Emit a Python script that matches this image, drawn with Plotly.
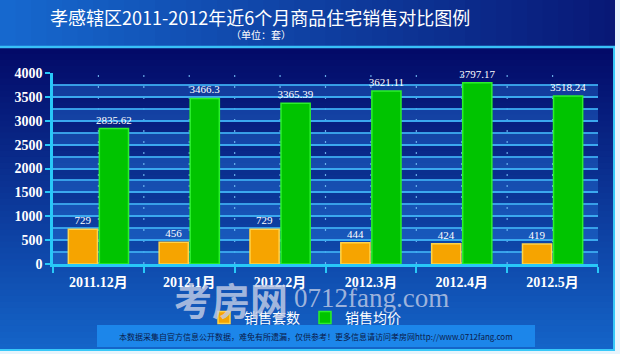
import plotly.graph_objects as go

categories = ["2011.12月", "2012.1月", "2012.2月", "2012.3月", "2012.4月", "2012.5月"]
sales_count = [729, 456, 729, 444, 424, 419]
avg_price = [2835.62, 3466.3, 3365.39, 3621.11, 3797.17, 3518.24]
y_ticks = [0, 500, 1000, 1500, 2000, 2500, 3000, 3500, 4000]

W, H = 620, 354
PL, PR, PT, PB = 53, 598, 73, 264


def fx(px):
    return (px - PL) / (PR - PL)


def fy(py):
    return (PB - py) / (PB - PT)


def mix(c1, c2, t):
    return "rgb(%d,%d,%d)" % tuple(round(a + (b - a) * t) for a, b in zip(c1, c2))


shapes = []
# title band: horizontal gradient
n = 40
for i in range(n):
    x0 = W * i / n
    x1 = W * (i + 1) / n + 1
    shapes.append(dict(type="rect", xref="paper", yref="paper", x0=fx(x0), x1=fx(x1),
                       y0=fy(0), y1=fy(46), line_width=0, layer="below",
                       fillcolor=mix((22, 104, 206), (8, 24, 118), i / (n - 1))))
# main panel vertical gradient
n = 50
for i in range(n):
    y0 = 48 + (350 - 48) * i / n
    y1 = 48 + (350 - 48) * (i + 1) / n + 1
    shapes.append(dict(type="rect", xref="paper", yref="paper", x0=fx(0), x1=fx(614),
                       y0=fy(y1), y1=fy(y0), line_width=0, layer="below",
                       fillcolor=mix((3, 10, 104), (20, 100, 200), i / (n - 1))))
# borders
shapes.append(dict(type="line", xref="paper", yref="paper", x0=fx(0), x1=fx(616),
                   y0=fy(47), y1=fy(47), line=dict(color="#38c0f8", width=2.5), layer="below"))
shapes.append(dict(type="rect", xref="paper", yref="paper", x0=fx(615), x1=fx(621),
                   y0=fy(-1), y1=fy(355), line_width=0, fillcolor="#e8f4fc", layer="below"))
shapes.append(dict(type="line", xref="paper", yref="paper", x0=fx(614), x1=fx(614),
                   y0=fy(47), y1=fy(351), line=dict(color="#38c8f8", width=2), layer="below"))
shapes.append(dict(type="rect", xref="paper", yref="paper", x0=fx(0), x1=fx(621),
                   y0=fy(355), y1=fy(351), line_width=0, fillcolor="#e8f4fc", layer="below"))
shapes.append(dict(type="line", xref="paper", yref="paper", x0=fx(0), x1=fx(615),
                   y0=fy(350), y1=fy(350), line=dict(color="#38c8f8", width=2), layer="below"))
# plot-area stripes
for k in range(0, 4000, 500):
    shapes.append(dict(type="rect", xref="paper", yref="y", x0=0, x1=1, y0=k, y1=k + 250,
                       line_width=0, fillcolor="rgba(40,120,220,0.4)", layer="below"))
# vertical dotted lines
for k in range(1, 12):
    xv = -0.5 + 0.5 * k
    shapes.append(dict(type="line", xref="x", yref="y", x0=xv, x1=xv, y0=0, y1=4000,
                       line=dict(color="rgba(120,195,250,0.85)", width=1.2, dash="2px,9px"),
                       layer="below"))
# footer box
shapes.append(dict(type="rect", xref="paper", yref="paper", x0=fx(97), x1=fx(535),
                   y0=fy(347), y1=fy(325), line_width=0, fillcolor="#1c86ea", layer="below"))

fig = go.Figure()
fig.add_bar(x=categories, y=sales_count, name="销售套数",
            marker=dict(color="#f6a400", line=dict(color="#ffd448", width=1.5)),
            text=[str(v) for v in sales_count], textposition="outside", constraintext="none",
            textfont=dict(color="white", size=11, family="Liberation Serif"))
fig.add_bar(x=categories, y=avg_price, name="销售均价",
            marker=dict(color="#00c400", line=dict(color="#2cf02c", width=1.5)),
            text=[("%g" % v) for v in avg_price], textposition="outside", constraintext="none",
            textfont=dict(color="white", size=11, family="Liberation Serif"))

annotations = [
    dict(text="孝感辖区2011-2012年近6个月商品住宅销售对比图例", xref="paper", yref="paper",
         x=fx(260), y=fy(17), xanchor="center", yanchor="middle", showarrow=False,
         font=dict(size=18, color="white", family="Noto Sans CJK SC")),
    dict(text="（单位：套）", xref="paper", yref="paper",
         x=fx(261), y=fy(35), xanchor="center", yanchor="middle", showarrow=False,
         font=dict(size=10, color="white", family="Noto Sans CJK SC")),
    dict(text="<b>考房网</b>", xref="paper", yref="paper",
         x=fx(231), y=fy(298), xanchor="center", yanchor="middle", showarrow=False,
         font=dict(size=38, color="rgba(195,205,230,0.82)", family="Noto Sans CJK SC")),
    dict(text="0712fang.com", xref="paper", yref="paper",
         x=fx(292), y=fy(298), xanchor="left", yanchor="middle", showarrow=False,
         font=dict(size=27, color="rgba(195,205,230,0.8)", family="Liberation Serif")),
    dict(text="本数据采集自官方信息公开数据，难免有所遗漏，仅供参考！更多信息请访问孝房网http://www.0712fang.com",
         xref="paper", yref="paper", x=fx(316), y=fy(336), xanchor="center", yanchor="middle",
         showarrow=False, font=dict(size=8, color="#0a1a4a", family="Noto Sans CJK SC")),
]

fig.update_layout(
    width=W, height=H,
    margin=dict(l=PL, r=W - PR, t=PT, b=H - PB, pad=0),
    paper_bgcolor="#0a2a90", plot_bgcolor="rgba(0,0,0,0)",
    barmode="group", bargap=0.317, bargroupgap=0.06,
    shapes=shapes, annotations=annotations,
    showlegend=True,
    legend=dict(orientation="h", x=fx(305), y=fy(318), xanchor="center", yanchor="middle",
                font=dict(size=14, color="white", family="Noto Sans CJK SC"),
                bgcolor="rgba(0,0,0,0)", itemwidth=30),
    xaxis=dict(type="category", tickson="boundaries", ticks="outside", ticklen=6,
               tickwidth=2, tickcolor="#28c8f8", showline=True, linecolor="#28c8f8",
               linewidth=2.5, showgrid=False, range=[-0.5, 5.5], ticklabelstandoff=3,
               tickfont=dict(size=14, color="white", weight="bold",
                             family="Liberation Serif, Noto Sans CJK SC")),
    yaxis=dict(range=[0, 4000], tickvals=y_ticks, ticks="outside", ticklen=5, tickwidth=2,
               tickcolor="#28c8f8", showline=True, linecolor="#28c8f8", linewidth=2.5,
               showgrid=True, gridcolor="rgba(60,170,240,0.9)", gridwidth=1.5,
               minor=dict(dtick=250, showgrid=True, gridcolor="rgba(60,170,240,0.9)", gridwidth=1.5),
               zeroline=False,
               tickfont=dict(size=14, color="white", weight="bold", family="Liberation Serif")),
    font=dict(family="Noto Sans CJK SC", color="white"),
)
fig.update_traces(cliponaxis=False)

fig.write_html("out.html")
